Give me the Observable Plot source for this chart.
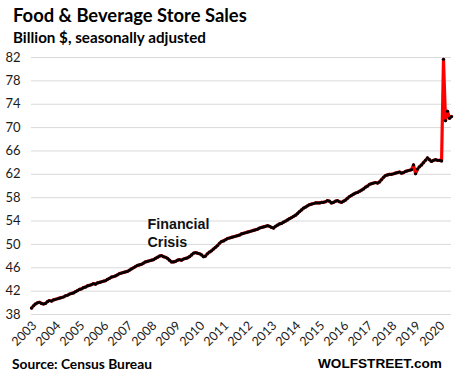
<!DOCTYPE html>
<html><head><meta charset="utf-8">
<script src="https://cdn.jsdelivr.net/npm/d3@7"></script>
<script src="https://cdn.jsdelivr.net/npm/@observablehq/plot@0.6"></script>
<style>
body{margin:0;background:#fff;}
#wrap{position:relative;width:457px;height:380px;overflow:hidden;font-family:Lato,"Open Sans",sans-serif;}
.t{position:absolute;white-space:nowrap;color:#000;font-weight:bold;line-height:1;}
#title{left:13px;top:6px;font-size:18.5px;}
#sub{left:13px;top:30px;font-size:14.5px;}
#src{left:12px;top:357px;font-size:13.5px;}
#wolf{left:318px;top:357px;font-family:"Liberation Sans",Arial,sans-serif;font-size:13.5px;}
#chart{position:absolute;left:0;top:50px;}
</style></head><body>
<div id="wrap">
  <div id="chart"></div>
  <div class="t" id="title">Food &amp; Beverage Store Sales</div>
  <div class="t" id="sub">Billion $, seasonally adjusted</div>
  <div class="t" id="src">Source: Census Bureau</div>
  <div class="t" id="wolf">WOLFSTREET.com</div>
</div>
<script>
// Monthly sales, billion $, Jan 2003 – Jul 2020
const startYear = 2003;
const sales2003 = [39.1, 39.5, 39.8, 40.0, 40.1, 39.9, 39.8, 39.9, 40.2, 40.4, 40.3, 40.5];
const sales2004 = [40.6, 40.7, 40.8, 40.9, 41.0, 41.2, 41.3, 41.5, 41.6, 41.7, 41.9, 42.1];
const sales2005 = [42.3, 42.4, 42.6, 42.7, 42.9, 43.0, 43.1, 43.3, 43.2, 43.4, 43.5, 43.6];
const sales2006 = [43.7, 43.8, 44.0, 44.2, 44.4, 44.5, 44.6, 44.8, 45.0, 45.1, 45.2, 45.3];
const sales2007 = [45.4, 45.6, 45.8, 46.0, 46.2, 46.4, 46.5, 46.6, 46.8, 47.0, 47.1, 47.2];
const sales2008 = [47.3, 47.4, 47.6, 47.8, 48.0, 48.1, 47.9, 47.8, 47.6, 47.3, 47.0, 47.0];
const sales2009 = [47.1, 47.3, 47.4, 47.3, 47.5, 47.6, 47.7, 47.9, 48.2, 48.5, 48.6, 48.5];
const sales2010 = [48.4, 48.2, 47.9, 48.0, 48.4, 48.7, 48.9, 49.2, 49.5, 49.8, 50.2, 50.5];
const sales2011 = [50.6, 50.8, 51.0, 51.1, 51.2, 51.3, 51.4, 51.5, 51.6, 51.8, 51.9, 52.0];
const sales2012 = [52.1, 52.2, 52.3, 52.4, 52.5, 52.6, 52.8, 52.9, 53.0, 53.1, 53.2, 53.1];
const sales2013 = [52.9, 52.8, 53.1, 53.3, 53.5, 53.6, 53.8, 54.0, 54.2, 54.4, 54.6, 54.8];
const sales2014 = [55.0, 55.3, 55.6, 55.9, 56.2, 56.4, 56.6, 56.8, 56.9, 57.0, 57.1, 57.1];
const sales2015 = [57.1, 57.2, 57.2, 57.3, 57.5, 57.4, 57.1, 57.2, 57.4, 57.5, 57.3, 57.2];
const sales2016 = [57.4, 57.6, 57.9, 58.2, 58.4, 58.6, 58.8, 58.9, 59.1, 59.3, 59.5, 59.8];
const sales2017 = [60.0, 60.3, 60.4, 60.5, 60.6, 60.5, 60.7, 61.1, 61.5, 61.8, 61.9, 62.0];
const sales2018 = [62.0, 62.1, 62.2, 62.3, 62.4, 62.2, 62.3, 62.5, 62.6, 62.7, 62.8, 63.6];
const sales2019 = [62.1, 62.9, 63.3, 63.6, 64.0, 64.4, 64.8, 64.5, 64.2, 64.4, 64.5, 64.4];
const sales2020 = [64.4, 64.3, 81.7, 71.2, 72.8, 71.6, 71.9];

const yearLabels = d3.range(2003, 2021);
const yTicks = [38, 42, 46, 50, 54, 58, 62, 66, 70, 74, 78, 82];
const annotations = [{label: "Financial\nCrisis", date: "2007-11-01", value: 52.1}];

const allSales = [sales2003, sales2004, sales2005, sales2006, sales2007, sales2008, sales2009,
  sales2010, sales2011, sales2012, sales2013, sales2014, sales2015, sales2016, sales2017,
  sales2018, sales2019, sales2020];
const data = [];
allSales.forEach((arr, yi) => arr.forEach((v, mi) => data.push({date: new Date(Date.UTC(startYear + yi, mi, 1)), value: v})));
const yearDates = yearLabels.map(y => new Date(Date.UTC(y, 0, 1)));
const ann = annotations.map(a => ({...a, date: new Date(a.date)}));

const chart = Plot.plot({
  width: 457, height: 304,
  marginLeft: 31, marginRight: 6, marginTop: 7, marginBottom: 40,
  style: {fontFamily: "Lato, 'Open Sans', sans-serif", fontSize: "13px", color: "#1a1a1a", background: "transparent", overflow: "visible"},
  x: {type: "utc", domain: [data[0].date, data[data.length - 1].date]},
  y: {domain: [38, 82]},
  marks: [
    Plot.ruleY(yTicks, {stroke: "#d9d9d9", strokeWidth: 1}),
    Plot.axisY({ticks: yTicks, tickSize: 0, tickPadding: 11, label: null, fontSize: 13}),
    Plot.axisX({ticks: yearDates, tickFormat: d3.utcFormat("%Y"), tickRotate: -45, tickSize: 0, tickPadding: 9, dx: 3, label: null, fontSize: 12.5}),
    Plot.line(data, {x: "date", y: "value", stroke: "#ff0000", strokeWidth: 3.2}),
    Plot.dot(data, {x: "date", y: "value", r: 1.6, fill: "#000", stroke: "none"}),
    Plot.text(ann, {x: "date", y: "value", text: "label", textAnchor: "start", lineAnchor: "middle",
      lineHeight: 1.3, fontSize: 14.3, fontWeight: "bold", fill: "#111", fontFamily: "'Liberation Sans', Arial, sans-serif"})
  ]
});
document.getElementById("chart").appendChild(chart);

function fit(id, w) {
  const el = document.getElementById(id);
  const cur = el.getBoundingClientRect().width;
  const fs = parseFloat(getComputedStyle(el).fontSize);
  el.style.fontSize = (fs * w / cur) + "px";
}
fit("title", 234); fit("sub", 193); fit("src", 140); fit("wolf", 124);
</script>
</body></html>
